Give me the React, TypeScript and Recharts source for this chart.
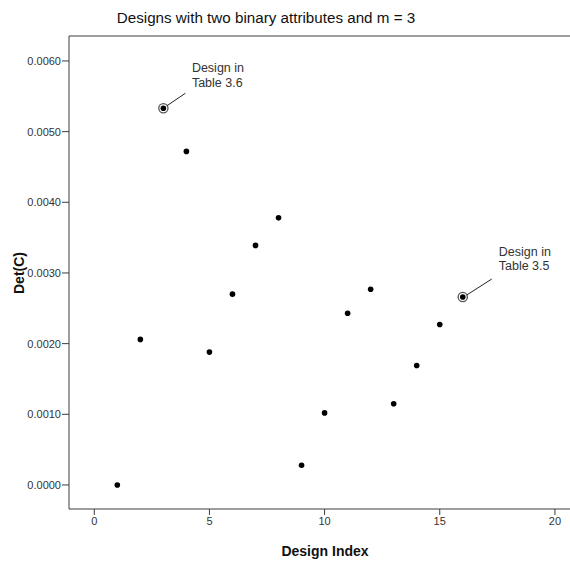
import {
  ReferenceDot,
  ReferenceLine,
  Scatter,
  ScatterChart,
  XAxis,
  YAxis
} from "recharts";

const designIndex = [1, 2, 3, 4, 5, 6, 7, 8, 9, 10, 11, 12, 13, 14, 15, 16];
const detC = [
  0.0, 0.00206, 0.00533, 0.00472, 0.00188, 0.0027, 0.00339, 0.00378,
  0.00028, 0.00102, 0.00243, 0.00277, 0.00115, 0.00169, 0.00227, 0.00266
];
const xTicks = [0, 5, 10, 15, 20];
const yTicks = [0, 0.001, 0.002, 0.003, 0.004, 0.005, 0.006];

// highlighted designs and their callout text
const callouts = [
  { design: 3, text: ["Design in", "Table 3.6"] },
  { design: 16, text: ["Design in", "Table 3.5"] }
];

// the plot runs past the right edge, so the frame looks open there
const X_DOMAIN: [number, number] = [-1.098, 21.09];
const Y_DOMAIN: [number, number] = [-0.00034, 0.006353];

const FONT = "Arial, 'Liberation Sans', sans-serif";
const AXIS = "#3d3d3d";

const points = designIndex.map((x, i) => ({ x, y: detC[i] }));

const Dot = (props: any) => {
  const { cx, cy } = props;
  if (cx == null || cy == null) return null;
  return <circle cx={cx} cy={cy} r={2.8} fill="#000" />;
};

// per-callout leader geometry, in px from the marked point
const calloutGeom: Record<number, { lx1: number; ly1: number; lx2: number; ly2: number; tx: number; ty: number[] }> = {
  3: { lx1: 3.5, ly1: -2.5, lx2: 22, ly2: -15, tx: 28.5, ty: [-36, -21.5] },
  16: { lx1: 4, ly1: -2, lx2: 29, ly2: -18, tx: 36, ty: [-41.3, -26.8] }
};

const makeCallout = (design: number, text: string[]) => (props: any) => {
  const { cx, cy } = props;
  const g = calloutGeom[design];
  return (
    <g>
      <circle cx={cx} cy={cy} r={4.6} fill="none" stroke="#555" strokeWidth={1.3} />
      <line
        x1={cx + g.lx1}
        y1={cy + g.ly1}
        x2={cx + g.lx2}
        y2={cy + g.ly2}
        stroke="#222"
        strokeWidth={1}
      />
      {text.map((t, i) => (
        <text
          key={t}
          x={cx + g.tx}
          y={cy + g.ty[i]}
          fontFamily={FONT}
          fontSize={12.5}
          fill="#333"
        >
          {t}
        </text>
      ))}
    </g>
  );
};

const textStyle = {
  position: "absolute" as const,
  fontFamily: FONT,
  color: "#111",
  textAlign: "center" as const,
  whiteSpace: "nowrap" as const
};

export default function App() {
  return (
    <div
      style={{
        position: "absolute",
        left: 0,
        top: 0,
        width: 570,
        height: 565,
        overflow: "hidden",
        background: "#fff"
      }}
    >
      <ScatterChart
        width={580}
        height={565}
        margin={{ top: 36, right: 0, bottom: 0, left: 0 }}
      >
        <XAxis
          type="number"
          dataKey="x"
          domain={X_DOMAIN}
          ticks={xTicks}
          allowDataOverflow
          height={56}
          tickSize={6}
          tickMargin={2}
          stroke={AXIS}
          tick={{ fill: "#333", fontSize: 11, fontFamily: FONT }}
        />
        <YAxis
          type="number"
          dataKey="y"
          domain={Y_DOMAIN}
          ticks={yTicks}
          allowDataOverflow
          width={69}
          tickSize={7}
          tickMargin={1}
          stroke={AXIS}
          tick={{ fill: "#333", fontSize: 11, fontFamily: FONT }}
          tickFormatter={(v: number) => v.toFixed(4)}
        />
        {/* top edge of the frame */}
        <ReferenceLine y={Y_DOMAIN[1]} stroke={AXIS} />
        <Scatter data={points} shape={Dot} isAnimationActive={false} />
        {callouts.map((c) => (
          <ReferenceDot
            key={c.design}
            x={c.design}
            y={detC[designIndex.indexOf(c.design)]}
            shape={makeCallout(c.design, c.text)}
          />
        ))}
      </ScatterChart>

      {/* keep the right side of the frame open */}
      <div
        style={{
          position: "absolute",
          left: 565,
          top: 38,
          width: 5,
          height: 469,
          background: "#fff"
        }}
      />

      <div style={{ ...textStyle, left: 0, top: 9, width: 532, fontSize: 15.2, lineHeight: "17px" }}>
        Designs with two binary attributes and m = 3
      </div>
      <div
        style={{
          ...textStyle,
          left: 265,
          top: 543,
          width: 120,
          fontSize: 14,
          lineHeight: "16px",
          fontWeight: "bold"
        }}
      >
        Design Index
      </div>
      <div
        style={{
          ...textStyle,
          left: -11,
          top: 264.5,
          width: 60,
          fontSize: 14,
          lineHeight: "16px",
          fontWeight: "bold",
          transform: "rotate(-90deg)"
        }}
      >
        Det(C)
      </div>
    </div>
  );
}
